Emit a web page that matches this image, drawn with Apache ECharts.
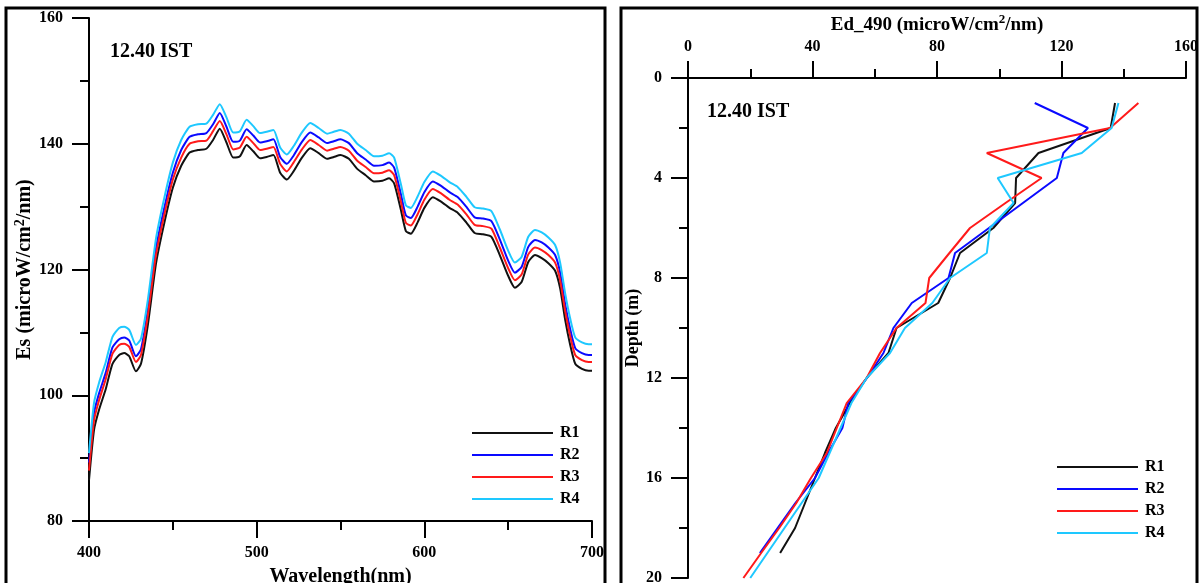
<!DOCTYPE html>
<html>
<head>
<meta charset="utf-8">
<script src="https://cdn.jsdelivr.net/npm/echarts@6/dist/echarts.min.js"></script>
<style>
html,body{margin:0;padding:0;background:#fff;}
#main{width:1199px;height:583px;}
</style>
</head>
<body>
<div id="main"></div>
<script>
// ---- Left panel: Es spectra ----
const wavelengths = [400,403,406,410,414,418,421,424,428,431,435,440,445,450,455,460,465,470,474,478,482,486,490,494,498,502,506,510,514,518,522,527,532,537,542,546,550,555,560,565,570,575,579,582,586,589,592,596,600,605,610,615,620,625,630,635,640,645,650,654,658,662,666,670,674,678,681,684,687,690,694,698,700];
const esR1 = [86.5,94.5,97.7,101,105,106.4,106.7,106.2,103.8,105,111,121,127.5,133,136.5,138.6,139,139.2,140.6,142.4,140.2,137.8,138,139.8,138.8,137.7,137.9,138.2,135.4,134.3,135.6,137.8,139.3,138.5,137.6,137.9,138.2,137.6,136,135,134,134.1,134.5,133.7,129.5,126.1,125.7,127.5,129.8,131.5,130.8,129.8,129,127.5,125.8,125.6,125.2,122.3,119,117.1,118,121.2,122.3,121.8,121,119.8,117,112,108,105,104.2,103.9,103.9];
const esR2 = [89.3,97.2,100.3,103.6,107.6,108.9,109.2,108.7,106.2,107.3,113.4,123.4,129.9,135.4,139,141.1,141.5,141.7,143.1,144.9,142.7,140.3,140.5,142.3,141.3,140.2,140.4,140.7,137.9,136.8,138.1,140.3,141.8,141,140.1,140.4,140.7,140.1,138.5,137.5,136.5,136.6,137,136.2,132,128.6,128.2,130,132.3,134,133.3,132.3,131.5,130,128.3,128.1,127.7,124.8,121.4,119.5,120.4,123.6,124.7,124.3,123.5,122.3,119.5,114.5,110.5,107.5,106.7,106.4,106.4];
const esR3 = [88.0,96,99.2,102.6,106.6,108,108.2,107.7,105.3,106.4,112.5,122.4,128.8,134.3,137.8,140,140.4,140.5,142,143.6,141.5,139.1,139.4,141.1,140.1,139,139.2,139.5,136.8,135.6,137,139.1,140.6,139.8,138.9,139.2,139.5,138.9,137.3,136.3,135.3,135.4,135.8,135,130.8,127.4,127,128.8,131.1,132.8,132.1,131.1,130.3,128.8,127.1,126.9,126.5,123.5,120.2,118.3,119.2,122.4,123.5,123.1,122.3,121.1,118.3,113.4,109.4,106.4,105.6,105.3,105.3];
const esR4 = [90.8,98.8,102,105.3,109.3,110.7,110.9,110.4,108,109,115,125,131.5,137,140.6,142.7,143.1,143.2,144.6,146.3,144.2,141.8,142,143.8,142.8,141.7,141.9,142.2,139.4,138.3,139.6,141.8,143.3,142.5,141.6,141.9,142.2,141.6,140,139,138,138.1,138.5,137.8,133.6,130.2,129.8,131.6,133.9,135.6,134.9,133.9,133.1,131.6,129.9,129.7,129.3,126.4,123,121.1,122,125.2,126.3,125.9,125.1,123.9,121.1,116.2,112.2,109.2,108.4,108.1,108.1];

// ---- Right panel: Ed_490 depth profiles ----
const depths = [1,2,3,4,5,6,7,8,9,10,11,12,13,14,15,16,17,18,19,20];
const edR1 = [137.2,135.8,112.6,105.4,105.1,98.1,87.4,84.2,80.4,67.0,64.4,57.4,52.0,47.5,44.0,40.8,37.6,34.4,29.6];
const edR2 = [111.4,128.5,120.6,118.5,107.6,96.7,85.8,83.7,71.9,66.0,62.8,57.5,51.5,49.6,45.0,40.8,34.5,28.8,23.1];
const edR3 = [144.7,135.6,96.0,113.6,102.0,90.6,84.0,77.5,76.3,67.0,61.7,57.4,51.0,47.8,44.6,39.5,34.8,29.3,23.5,17.8];
const edR4 = [138.3,136.1,126.5,99.5,104.6,97.0,96.0,84.2,78.5,69.7,64.9,57.4,52.5,49.0,45.5,42.0,36.5,31.0,25.5,20.0];

const seriesNames = ['R1','R2','R3','R4'];
const colors = ['#111111','#0a0aff','#ff1a1a','#1ec8ff'];
const esData = [esR1, esR2, esR3, esR4];
const edData = [edR1, edR2, edR3, edR4];
// tick settings: [min, max, major interval, minor interval]
const xTicksLeft = [400, 700, 100, 50];
const yTicksLeft = [80, 160, 20, 10];
const xTicksRight = [0, 160, 40, 20];
const yTicksRight = [0, 20, 4, 2];

const FONT = '"Liberation Serif","Times New Roman",serif';
const labelStyle = {color:'#000', fontFamily:FONT, fontWeight:'bold', fontSize:16};
function nameStyle(size){
  return {color:'#000', fontFamily:FONT, fontWeight:'bold', fontSize:size,
    rich:{sup:{fontFamily:FONT, fontWeight:'bold', fontSize:Math.round(size*0.68), verticalAlign:'bottom', padding:[0,0,Math.round(size*0.45),0], color:'#000'}}};
}

function majorAxis(t, extra){
  return Object.assign({
    type:'value', min:t[0], max:t[1], interval:t[2],
    axisLine:{show:true, onZero:false, lineStyle:{color:'#000', width:2}},
    axisTick:{show:true, inside:false, length:17, lineStyle:{color:'#000', width:2}},
    minorTick:{show:false},
    splitLine:{show:false},
    axisLabel:Object.assign({margin:26}, labelStyle)
  }, extra);
}
function minorAxis(t, extra){
  return Object.assign({
    type:'value', min:t[0], max:t[1], interval:t[3],
    axisLine:{show:false, onZero:false},
    axisTick:{show:true, inside:false, length:9, lineStyle:{color:'#000', width:2}},
    splitLine:{show:false},
    axisLabel:{show:false}
  }, extra);
}

const series = [];
seriesNames.forEach((n,k)=>{
  series.push({
    name:n, type:'line', xAxisIndex:0, yAxisIndex:0, symbol:'none', smooth:0.2,
    lineStyle:{width:2, color:colors[k]}, itemStyle:{color:colors[k]},
    data: wavelengths.map((w,i)=>[w, esData[k][i]])
  });
});
seriesNames.forEach((n,k)=>{
  series.push({
    name:n, type:'line', xAxisIndex:1, yAxisIndex:1, symbol:'none',
    lineStyle:{width:2, color:colors[k]}, itemStyle:{color:colors[k]},
    data: edData[k].map((v,i)=>[v, depths[i]])
  });
});

const legendBase = {
  orient:'vertical', itemWidth:81, itemHeight:14, itemGap:6, icon:'path://M0,6 L81,6 L81,8 L0,8 Z',
  textStyle:{color:'#000', fontFamily:FONT, fontWeight:'bold', fontSize:16, padding:[0,0,0,2]},
  data:seriesNames, selectedMode:false
};

const option = {
  animation:false,
  backgroundColor:'#fff',
  grid:[
    {left:89, top:18, width:503, height:503, outerBoundsMode:'none', containLabel:false},
    {left:688, top:78, width:498, height:500, outerBoundsMode:'none', containLabel:false}
  ],
  xAxis:[
    majorAxis(xTicksLeft, {gridIndex:0, position:'bottom',
      axisLabel:Object.assign({margin:24}, labelStyle),
      name:'Wavelength(nm)', nameLocation:'middle', nameGap:46, nameTextStyle:nameStyle(20)}),
    majorAxis(xTicksRight, {gridIndex:1, position:'top',
      axisLabel:Object.assign({margin:23}, labelStyle),
      name:'Ed_490 (microW/cm{sup|2}/nm)', nameLocation:'middle', nameGap:39, nameTextStyle:nameStyle(19)}),
    minorAxis(xTicksLeft, {gridIndex:0, position:'bottom'}),
    minorAxis(xTicksRight, {gridIndex:1, position:'top'})
  ],
  yAxis:[
    majorAxis(yTicksLeft, {gridIndex:0, position:'left',
      name:'Es (microW/cm{sup|2}/nm)', nameLocation:'middle', nameGap:43, nameTextStyle:nameStyle(20)}),
    majorAxis(yTicksRight, {gridIndex:1, position:'left', inverse:true,
      name:'Depth (m)', nameLocation:'middle', nameGap:46, nameTextStyle:nameStyle(18)}),
    minorAxis(yTicksLeft, {gridIndex:0, position:'left'}),
    minorAxis(yTicksRight, {gridIndex:1, position:'left', inverse:true})
  ],
  legend:[
    Object.assign({left:467, top:420}, legendBase),
    Object.assign({left:1052, top:454}, legendBase)
  ],
  graphic:[
    {type:'rect', shape:{x:6, y:8, width:599, height:620}, style:{fill:'none', stroke:'#000', lineWidth:3}, silent:true},
    {type:'rect', shape:{x:621, y:8, width:576, height:620}, style:{fill:'none', stroke:'#000', lineWidth:3}, silent:true},
    {type:'text', left:110, top:42, style:{text:'12.40 IST', fill:'#000', font:'bold 20px '+FONT}},
    {type:'text', left:707, top:102, style:{text:'12.40 IST', fill:'#000', font:'bold 20px '+FONT}}
  ],
  series:series
};

const chart = echarts.init(document.getElementById('main'), null, {renderer:'canvas'});
chart.setOption(option);
</script>
</body>
</html>
